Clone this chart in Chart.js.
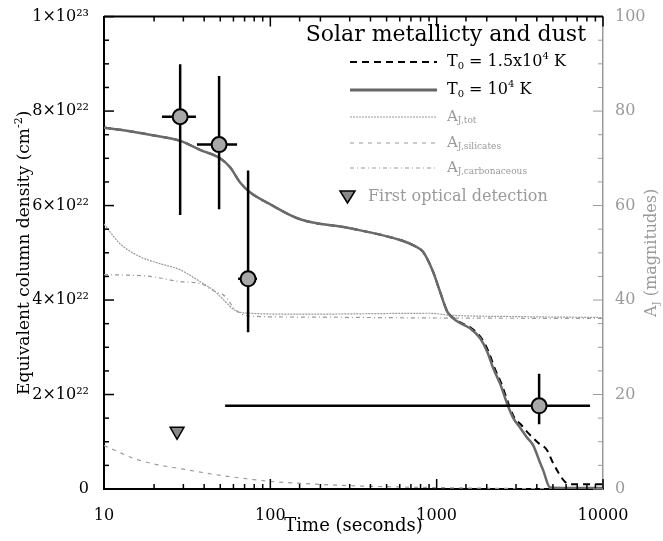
<!DOCTYPE html>
<html>
<head>
<meta charset="utf-8">
<script src="https://cdn.jsdelivr.net/npm/chart.js@4.4.0/dist/chart.umd.min.js"></script>
<style>
  body { margin: 0; background: #fff; }
  #wrap { width: 663px; height: 541px; position: relative; }
</style>
</head>
<body>
<div id="wrap"><canvas id="plot"></canvas></div>
<script>
// observed column densities (left axis) with error ranges
const obsTime = [28.7, 49.2, 73.5, 4130];
const obsNH = [7.88e22, 7.29e22, 4.45e22, 1.76e22];
const obsTimeLo = [22.3, 36.2, 64.0, 53.5];
const obsTimeHi = [35.7, 63.1, 83.2, 8360];
const obsNHLo = [5.80e22, 5.92e22, 3.32e22, 1.37e22];
const obsNHHi = [8.99e22, 8.74e22, 6.74e22, 2.44e22];

// first optical detection
const optTime = [27.5];
const optNH = [1.22e22];

// T0 = 10^4 K model
const tT4 = [10, 14, 18.9, 28.7, 37.8, 49.9, 57.3, 65.8, 75.5, 99.5, 151, 301, 603, 741, 828, 951, 1047, 1155, 1328, 1589, 1825, 2010, 2185, 2405, 2650, 2878, 3170, 3490, 3800, 4190, 4365, 4810, 6000, 8000, 10000];
const nT4 = [7.65, 7.58, 7.50, 7.37, 7.18, 7.00, 6.81, 6.49, 6.28, 6.03, 5.71, 5.52, 5.27, 5.14, 5.02, 4.60, 4.18, 3.76, 3.55, 3.40, 3.19, 2.91, 2.56, 2.23, 1.81, 1.51, 1.30, 1.09, 0.93, 0.55, 0.40, 0.03, 0.02, 0.02, 0.02];

// T0 = 1.5x10^4 K model
const tT15 = [10, 14, 18.9, 28.7, 37.8, 49.9, 57.3, 65.8, 75.5, 99.5, 151, 301, 603, 741, 828, 951, 1047, 1160, 1350, 1620, 1860, 2050, 2230, 2450, 2700, 2930, 3220, 3520, 4040, 4610, 5010, 5920, 6500, 10000];
const nT15 = [7.65, 7.58, 7.50, 7.37, 7.18, 7.00, 6.81, 6.49, 6.28, 6.03, 5.71, 5.52, 5.27, 5.14, 5.02, 4.60, 4.18, 3.76, 3.55, 3.40, 3.19, 2.91, 2.56, 2.23, 1.81, 1.51, 1.36, 1.20, 0.99, 0.82, 0.55, 0.15, 0.10, 0.10];

// extinction A_J (right axis, magnitudes)
const tTot = [10, 12.5, 16.4, 21.7, 28.7, 37.8, 46.5, 53.5, 61.4, 75.5, 151, 911, 1200, 3000, 10000];
const aTot = [56.1, 51.9, 49.2, 47.7, 46.4, 43.9, 41.8, 39.7, 37.8, 37.2, 37.0, 37.2, 36.8, 36.5, 36.3];
const tSil = [10, 11.6, 15, 20, 30, 50, 75, 100, 150, 300, 1000, 3000, 10000];
const aSil = [9.2, 8.2, 6.5, 5.3, 4.2, 2.9, 2.1, 1.6, 1.2, 0.7, 0.3, 0.1, 0.05];
const tCarb = [10, 18.9, 28.7, 37.8, 46.5, 53.5, 61.4, 75.5, 151, 1000, 10000];
const aCarb = [45.4, 45.0, 43.9, 43.5, 41.8, 40.8, 38.0, 36.6, 36.4, 36.2, 36.1];

const FONT = '"DejaVu Serif", "Liberation Serif", serif';
const GREY = '#9a9a9a';

function pairs(xs, ys, scale) {
  return xs.map((x, i) => ({x: x, y: ys[i] * (scale || 1)}));
}

// error bars as line segments separated by gaps
const errData = [];
obsTime.forEach((t, i) => {
  errData.push({x: obsTimeLo[i], y: obsNH[i]}, {x: obsTimeHi[i], y: obsNH[i]}, {x: t, y: null});
  errData.push({x: t, y: obsNHLo[i]}, {x: t, y: obsNHHi[i]}, {x: t, y: null});
});

// text with sub/superscripts: parts = [text, size, dy]
function drawRich(ctx, parts, x, y, align) {
  let w = 0;
  parts.forEach(p => { ctx.font = p[1] + 'px ' + FONT; w += ctx.measureText(p[0]).width; });
  let cx = align === 'right' ? x - w : align === 'center' ? x - w / 2 : x;
  ctx.textAlign = 'left';
  ctx.textBaseline = 'middle';
  parts.forEach(p => {
    ctx.font = p[1] + 'px ' + FONT;
    ctx.fillText(p[0], cx, y + (p[2] || 0));
    cx += ctx.measureText(p[0]).width;
  });
}

const decorations = {
  id: 'decorations',
  afterDraw(chart) {
    const ctx = chart.ctx;
    const a = chart.chartArea;
    const x = chart.scales.x, y = chart.scales.y, yA = chart.scales.yA;
    ctx.save();

    // inward tick marks
    ctx.strokeStyle = '#000';
    ctx.lineWidth = 1.5;
    x.ticks.forEach(t => {
      const px = x.getPixelForValue(t.value);
      const lg = Math.log10(t.value);
      const len = Math.abs(lg - Math.round(lg)) < 1e-6 ? 10 : 5;
      ctx.beginPath();
      ctx.moveTo(px, a.bottom); ctx.lineTo(px, a.bottom - len);
      ctx.moveTo(px, a.top); ctx.lineTo(px, a.top + len);
      ctx.stroke();
    });
    y.ticks.forEach(t => {
      const py = y.getPixelForValue(t.value);
      const len = Math.round(t.value / 1e21) % 20 === 0 ? 10 : 5;
      ctx.beginPath();
      ctx.moveTo(a.left, py); ctx.lineTo(a.left + len, py);
      ctx.stroke();
    });
    ctx.strokeStyle = GREY;
    ctx.lineWidth = 1;
    yA.ticks.forEach(t => {
      const py = yA.getPixelForValue(t.value);
      const len = Math.round(t.value) % 20 === 0 ? 10 : 5;
      ctx.beginPath();
      ctx.moveTo(a.right, py); ctx.lineTo(a.right - len, py);
      ctx.stroke();
    });

    // top frame line
    ctx.strokeStyle = '#000';
    ctx.lineWidth = 2;
    ctx.beginPath();
    ctx.moveTo(a.left, a.top); ctx.lineTo(a.right, a.top);
    ctx.stroke();

    // axis titles
    ctx.fillStyle = '#000';
    drawRich(ctx, [['Time (seconds)', 18]], (a.left + a.right) / 2, 526, 'center');
    ctx.save();
    ctx.translate(25, (a.top + a.bottom) / 2);
    ctx.rotate(-Math.PI / 2);
    drawRich(ctx, [['Equivalent column density (cm', 17], ['-2', 11, -6], [')', 17]], 0, 0, 'center');
    ctx.restore();
    ctx.save();
    ctx.fillStyle = GREY;
    ctx.translate(652, (a.top + a.bottom) / 2);
    ctx.rotate(-Math.PI / 2);
    drawRich(ctx, [['A', 16], ['J', 10, 4], [' (magnitudes)', 16]], 0, 0, 'center');
    ctx.restore();

    // legend
    ctx.fillStyle = '#000';
    drawRich(ctx, [['Solar metallicty and dust', 22]], 586, 35, 'right');
    const rows = [
      {y: 62, color: '#000', width: 2, dash: [7, 5], text: [['T', 16], ['0', 10, 4], [' = 1.5x10', 16], ['4', 10, -6], [' K', 16]], tc: '#000'},
      {y: 90, color: '#666', width: 3, dash: [], text: [['T', 16], ['0', 10, 4], [' = 10', 16], ['4', 10, -6], [' K', 16]], tc: '#000'},
      {y: 117, color: GREY, width: 1.2, dash: [2, 1], text: [['A', 15], ['J,tot', 9, 4]], tc: GREY},
      {y: 143, color: GREY, width: 1.2, dash: [4, 5], text: [['A', 15], ['J,silicates', 9, 4]], tc: GREY},
      {y: 168, color: GREY, width: 1.2, dash: [4, 3, 1, 3], text: [['A', 15], ['J,carbonaceous', 9, 4]], tc: GREY}
    ];
    rows.forEach(r => {
      ctx.strokeStyle = r.color;
      ctx.lineWidth = r.width;
      ctx.setLineDash(r.dash);
      ctx.beginPath();
      ctx.moveTo(350, r.y); ctx.lineTo(437, r.y);
      ctx.stroke();
      ctx.setLineDash([]);
      ctx.fillStyle = r.tc;
      drawRich(ctx, r.text, 447, r.y, 'left');
    });
    // triangle symbol
    ctx.fillStyle = '#888';
    ctx.strokeStyle = '#000';
    ctx.lineWidth = 1.5;
    ctx.beginPath();
    ctx.moveTo(340, 191); ctx.lineTo(355, 191); ctx.lineTo(347.5, 203); ctx.closePath();
    ctx.fill(); ctx.stroke();
    ctx.fillStyle = GREY;
    drawRich(ctx, [['First optical detection', 16]], 368, 197, 'left');

    ctx.restore();
  }
};

const lineBase = {type: 'line', pointRadius: 0, fill: false, cubicInterpolationMode: 'monotone'};

new Chart(document.getElementById('plot'), {
  type: 'line',
  data: {
    datasets: [
      {type: 'scatter', data: pairs(obsTime, obsNH), yAxisID: 'y', pointStyle: 'circle', pointRadius: 7.5,
        backgroundColor: '#a8a8a8', borderColor: '#000', borderWidth: 2, showLine: false},
      {type: 'scatter', data: pairs(optTime, optNH), yAxisID: 'y', pointStyle: 'triangle', rotation: 180, pointRadius: 8,
        backgroundColor: '#888', borderColor: '#000', borderWidth: 1.5, showLine: false},
      {type: 'line', data: errData, yAxisID: 'y', pointRadius: 0, borderColor: '#000', borderWidth: 2.5, spanGaps: false, fill: false},
      Object.assign({}, lineBase, {data: pairs(tT4, nT4, 1e22), yAxisID: 'y', borderColor: '#6a6a6a', borderWidth: 2.5}),
      Object.assign({}, lineBase, {data: pairs(tT15, nT15, 1e22), yAxisID: 'y', borderColor: '#000', borderWidth: 2, borderDash: [7, 5]}),
      Object.assign({}, lineBase, {data: pairs(tTot, aTot), yAxisID: 'yA', borderColor: GREY, borderWidth: 1.2, borderDash: [2, 1]}),
      Object.assign({}, lineBase, {data: pairs(tSil, aSil), yAxisID: 'yA', borderColor: GREY, borderWidth: 1.2, borderDash: [4, 5]}),
      Object.assign({}, lineBase, {data: pairs(tCarb, aCarb), yAxisID: 'yA', borderColor: GREY, borderWidth: 1.2, borderDash: [4, 3, 1, 3]})
    ]
  },
  options: {
    responsive: true,
    maintainAspectRatio: false,
    animation: false,
    layout: {padding: {top: 13, left: 0, right: 0, bottom: 0}},
    plugins: {legend: {display: false}, tooltip: {enabled: false}},
    scales: {
      x: {
        type: 'logarithmic', position: 'bottom', min: 10, max: 10000,
        grid: {display: false},
        border: {display: true, color: '#000', width: 2},
        afterFit: s => { s.height = 52; },
        ticks: {
          autoSkip: false, maxRotation: 0, padding: 9, color: '#000', font: {family: FONT, size: 16},
          callback: v => { const lg = Math.log10(v); return Math.abs(lg - Math.round(lg)) < 1e-6 ? String(Math.round(v)) : ''; }
        }
      },
      y: {
        type: 'linear', position: 'left', min: 0, max: 1e23,
        grid: {display: false},
        border: {display: true, color: '#000', width: 2},
        afterFit: s => { s.width = 104; },
        ticks: {
          stepSize: 5e21, maxTicksLimit: 40, autoSkip: false, padding: 7, color: '#000', font: {family: FONT, size: 16},
          callback: v => {
            const k = Math.round(v / 1e21);
            if (k % 20 !== 0) return '';
            if (k === 0) return '0';
            if (k === 100) return '1×10²³';
            return (k / 10) + '×10²²';
          }
        }
      },
      yA: {
        type: 'linear', position: 'right', min: 0, max: 100,
        grid: {display: false},
        border: {display: true, color: GREY, width: 1.5},
        afterFit: s => { s.width = 60; },
        ticks: {
          stepSize: 5, autoSkip: false, padding: 4, color: GREY, font: {family: FONT, size: 16},
          callback: v => (Math.round(v) % 20 === 0 ? String(v) : '')
        }
      }
    }
  },
  plugins: [decorations]
});
</script>
</body>
</html>
